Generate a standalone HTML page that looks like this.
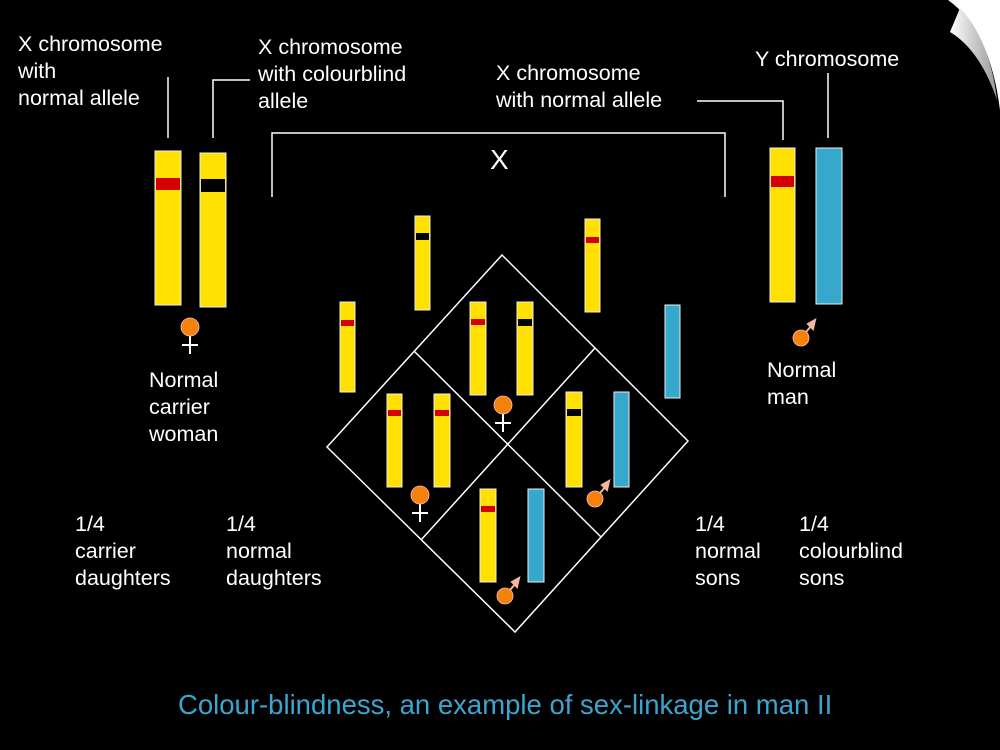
<!DOCTYPE html>
<html><head><meta charset="utf-8"><style>
html,body{margin:0;padding:0;background:#000;}
svg{display:block;}
text{font-family:"Liberation Sans",sans-serif;fill:#fff;font-size:21.5px;}
</style></head><body>
<svg width="1000" height="750" viewBox="0 0 1000 750">
<defs><linearGradient id="g" x1="0" y1="0" x2="1" y2="0"><stop offset="0" stop-color="#fff"/><stop offset="1" stop-color="#999"/></linearGradient></defs>
<rect width="1000" height="750" fill="#000"/>
<path d="M948,0 Q990,30 1000,110 L1000,0 Z" fill="#fff"/>
<path d="M960,8 L950,32 Q980,50 997,100 Q990,40 960,8 Z" fill="url(#g)"/>
<g fill="none" stroke="#fff" stroke-width="1.5">
<path d="M168,77 V138"/><path d="M250,80 H213 V138"/>
<path d="M272,197 V133 H725 V197"/>
<path d="M697,101 H783 V140"/><path d="M828,73 V138"/>
<path d="M502,255 L688,441 L515,632 L327,447 Z"/>
<path d="M414,351 L601,537"/><path d="M595,348 L421,540"/>
</g>
<g stroke="#eee" stroke-width="1">
<rect x="155" y="151" width="26" height="154" fill="#ffe000"/>
<rect x="200" y="153" width="26" height="154" fill="#ffe000"/>
<rect x="770" y="148" width="25" height="154" fill="#ffe000"/>
<rect x="816" y="148" width="26" height="156" fill="#35a8cc"/>
<rect x="340" y="302" width="15" height="90" fill="#ffe000"/>
<rect x="415" y="216" width="15" height="94" fill="#ffe000"/>
<rect x="585" y="219" width="15" height="93" fill="#ffe000"/>
<rect x="665" y="305" width="15" height="93" fill="#35a8cc"/>
<rect x="470" y="302" width="16" height="93" fill="#ffe000"/>
<rect x="517" y="302" width="16" height="93" fill="#ffe000"/>
<rect x="387" y="394" width="15" height="93" fill="#ffe000"/>
<rect x="434" y="394" width="16" height="93" fill="#ffe000"/>
<rect x="566" y="392" width="16" height="95" fill="#ffe000"/>
<rect x="614" y="392" width="15" height="95" fill="#35a8cc"/>
<rect x="480" y="489" width="16" height="93" fill="#ffe000"/>
<rect x="528" y="489" width="16" height="93" fill="#35a8cc"/>
</g>
<g fill="#d40000">
<rect x="156" y="178" width="24" height="12"/>
<rect x="771" y="176" width="23" height="11"/>
<rect x="341" y="320" width="13" height="6"/>
<rect x="586" y="237" width="13" height="6"/>
<rect x="471" y="319" width="14" height="6"/>
<rect x="388" y="410" width="13" height="6"/>
<rect x="435" y="410" width="14" height="6"/>
<rect x="481" y="506" width="14" height="6"/>
</g>
<g fill="#000">
<rect x="201" y="179" width="24" height="13"/>
<rect x="416" y="233" width="13" height="7"/>
<rect x="518" y="319" width="14" height="7"/>
<rect x="567" y="409" width="14" height="7"/>
</g>
<g stroke="#fff" stroke-width="2" fill="none">
<path d="M190,336 V354 M182,345 H198"/>
<path d="M503,414 V432 M495,423 H511"/>
<path d="M420,504 V522 M412,513 H428"/>
</g>
<g fill="#f5820a" stroke="#fbb" stroke-width="0.8">
<circle cx="190" cy="327" r="9"/>
<circle cx="503" cy="405" r="9"/>
<circle cx="420" cy="495" r="9"/>
<circle cx="801" cy="338" r="8"/>
<circle cx="595" cy="499" r="8"/>
<circle cx="505" cy="596" r="8"/>
</g>
<g stroke="#f4b8a0" stroke-width="2" fill="#f4b8a0">
<path d="M806,332 L812,325" /><path d="M815,320 L808,324 L813,329 Z"/>
<path d="M600,493 L606,486"/><path d="M609,481 L602,485 L607,490 Z"/>
<path d="M510,590 L516,583"/><path d="M519,578 L512,582 L517,587 Z"/>
</g>
<text x="18" y="51">X chromosome</text>
<text x="18" y="78">with</text>
<text x="18" y="105">normal allele</text>
<text x="258" y="54">X chromosome</text>
<text x="258" y="81">with colourblind</text>
<text x="258" y="108">allele</text>
<text x="496" y="80">X chromosome</text>
<text x="496" y="107">with normal allele</text>
<text x="755" y="66">Y chromosome</text>
<text x="490" y="169" style="font-size:28px">X</text>
<text x="149" y="387">Normal</text>
<text x="149" y="414">carrier</text>
<text x="149" y="441">woman</text>
<text x="767" y="377">Normal</text>
<text x="767" y="404">man</text>
<text x="75" y="531">1/4</text>
<text x="75" y="558">carrier</text>
<text x="75" y="585">daughters</text>
<text x="226" y="531">1/4</text>
<text x="226" y="558">normal</text>
<text x="226" y="585">daughters</text>
<text x="695" y="531">1/4</text>
<text x="695" y="558">normal</text>
<text x="695" y="585">sons</text>
<text x="799" y="531">1/4</text>
<text x="799" y="558">colourblind</text>
<text x="799" y="585">sons</text>
<text x="178" y="714" style="fill:#3aa6d0;font-size:27.5px">Colour-blindness, an example of sex-linkage in man II</text>
</svg>
</body></html>
